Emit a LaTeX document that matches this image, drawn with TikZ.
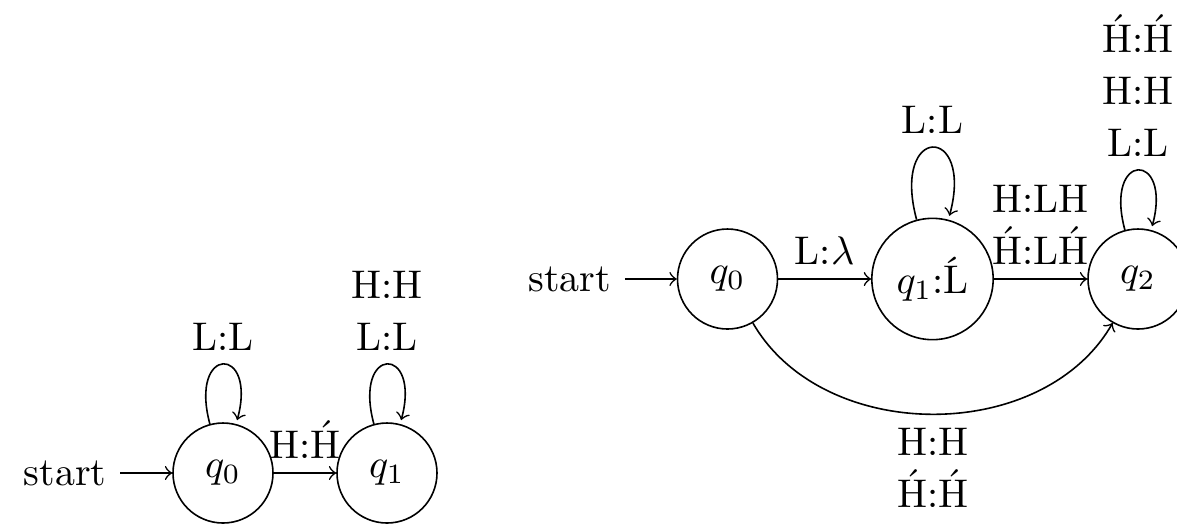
\documentclass[tikz,border=0pt]{standalone}
\usetikzlibrary{automata,positioning}

% H with an acute accent, built from the spacing acute glyph
\newcommand{\Hac}{\accent"00B4 H}

\tikzset{
  fsm/.style={state, minimum size=2.5em},
  lbl/.style={align=center},
}

\begin{document}
\begin{tikzpicture}[x=0.25pt, y=-0.25pt, ->, initial text=start]
  \useasboundingbox (0,0) rectangle (1177,528);

  % first transducer
  \node[fsm, initial] (a0) at (223,473) {$q_0$};
  \node[fsm]          (a1) at (387,473) {$q_1$};

  \path (a0) edge[loop above] node[above] {L:L} ()
             edge node[above] {H:\Hac} (a1)
        (a1) edge[loop above] node[above, lbl] {H:H\\[1pt]L:L} ();

  % second transducer
  \node[fsm, initial] (b0) at (727.5,279) {$q_0$};
  \node[fsm]          (b1) at (932.5,279) {$q_1$:\'L};
  \node[fsm]          (b2) at (1138,279)  {$q_2$};

  \path (b0) edge node[above] {L:$\lambda$} (b1)
             edge[bend right=60] node[below, lbl] {H:H\\[1pt]\Hac:\Hac} (b2)
        (b1) edge[loop above] node[above] {L:L} ()
             edge node[above, lbl] {H:LH\\[1pt]\Hac:L\Hac} (b2)
        (b2) edge[loop above] node[above, lbl] {\Hac:\Hac\\[1pt]H:H\\[1pt]L:L} ();
\end{tikzpicture}
\end{document}
